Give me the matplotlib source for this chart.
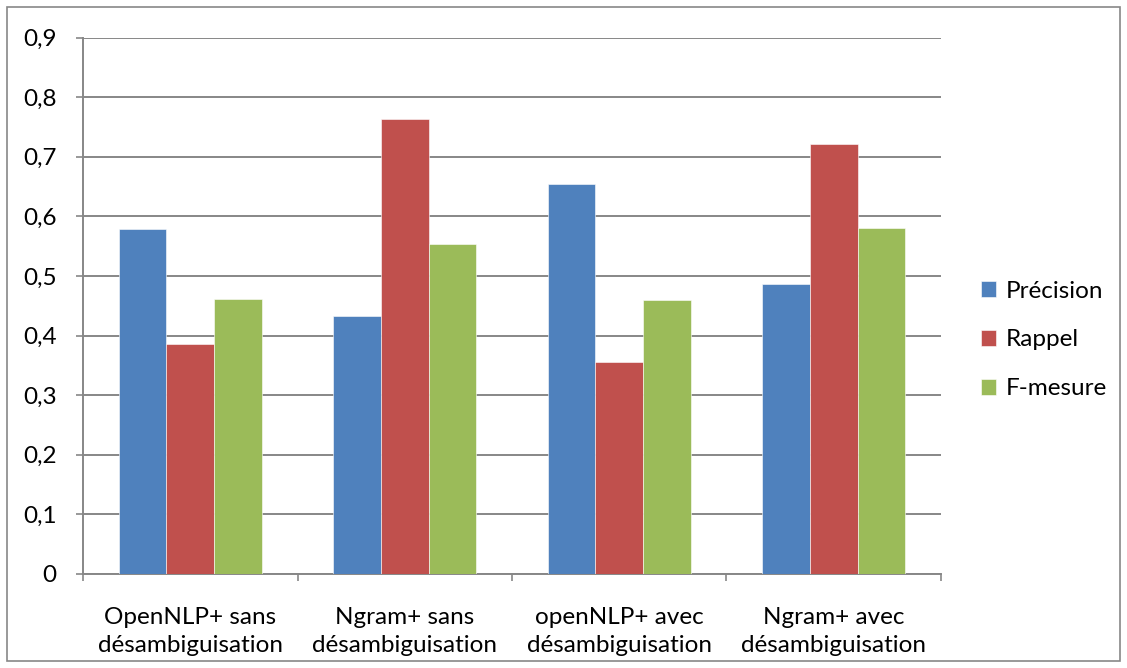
import numpy as np
import matplotlib.pyplot as plt
from matplotlib.patches import Rectangle
from matplotlib.ticker import FuncFormatter

plt.rcParams['font.family'] = ['Lato', 'DejaVu Sans']

categories = ["OpenNLP+ sans\ndésambiguisation", "Ngram+ sans\ndésambiguisation",
              "openNLP+ avec\ndésambiguisation", "Ngram+ avec\ndésambiguisation"]
precision = [0.579, 0.433, 0.654, 0.487]
rappel = [0.385, 0.763, 0.356, 0.722]
fmesure = [0.462, 0.553, 0.460, 0.581]

series = [("Précision", precision, "#4F81BD"),
          ("Rappel", rappel, "#C0504D"),
          ("F-mesure", fmesure, "#9BBB59")]

fs = 17.5

fig = plt.figure(figsize=(11.27, 6.68), dpi=100)
ax = fig.add_axes([83 / 1127, 1 - 574 / 668, (941 - 83) / 1127, (574 - 37.5) / 668])

x = np.arange(len(categories))
w = 0.222
for i, (name, vals, col) in enumerate(series):
    ax.bar(x + (i - 1) * w, vals, width=w, color=col, label=name, zorder=3,
           edgecolor="white", linewidth=0.4)

ax.set_xlim(-0.5, len(categories) - 0.5)
ax.set_ylim(0, 0.9)
ax.set_yticks(np.arange(0, 0.91, 0.1))
ax.yaxis.set_major_formatter(FuncFormatter(lambda v, p: "0" if abs(v) < 1e-9 else f"{v:.1f}".replace(".", ",")))
ax.grid(axis="y", color="#878787", linewidth=1.4, zorder=0)

# category labels centred, ticks at boundaries
ax.set_xticks(np.arange(-0.5, len(categories)), minor=False)
ax.set_xticklabels([])
ax.set_xticks(x, minor=True)
ax.set_xticklabels(categories, minor=True, fontsize=fs, linespacing=1.38)
ax.tick_params(axis="x", which="minor", length=0, pad=24)
ax.tick_params(axis="x", which="major", length=5, color="#878787", width=1.2)
ax.tick_params(axis="y", length=5, color="#878787", width=1.2, labelsize=fs, pad=14)

for s in ["top", "right"]:
    ax.spines[s].set_visible(False)
for s in ["left", "bottom"]:
    ax.spines[s].set_color("#878787")
    ax.spines[s].set_linewidth(1.4)

leg = fig.legend(loc="center left", bbox_to_anchor=(981 / 1127, 1 - 340 / 668), frameon=False,
                 fontsize=fs, handlelength=0.6, handleheight=0.6, handletextpad=0.4,
                 labelspacing=1.15, borderpad=0, borderaxespad=0)

fig.patches.append(Rectangle((7 / 1127, 7 / 668), 1 - 14 / 1127, 1 - 14 / 668,
                             transform=fig.transFigure, fill=False,
                             edgecolor="#878787", linewidth=1.2))

fig.savefig("out.png", dpi=100)
